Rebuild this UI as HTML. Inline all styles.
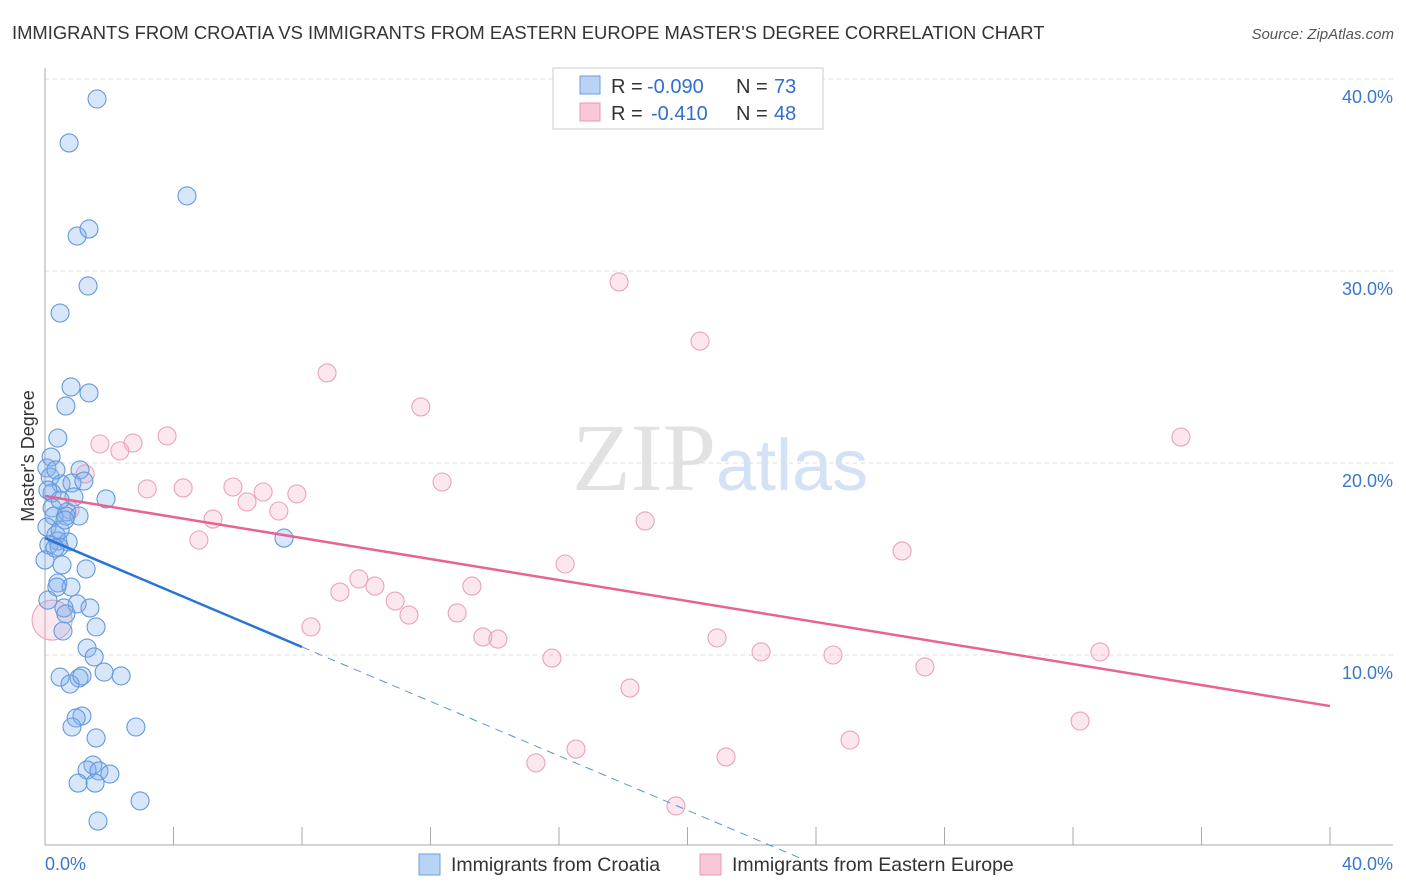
<!DOCTYPE html>
<html><head><meta charset="utf-8"><style>
body{margin:0;background:#fff;font-family:"Liberation Sans",sans-serif;}
svg{display:block}
</style></head><body>
<svg id="chart" width="1406" height="892">
<text x="12" y="39" font-size="18.4" fill="#333">IMMIGRANTS FROM CROATIA VS IMMIGRANTS FROM EASTERN EUROPE MASTER'S DEGREE CORRELATION CHART</text>
<text x="1394" y="39" font-size="15" fill="#555" font-style="italic" text-anchor="end">Source: ZipAtlas.com</text>
<text x="716" y="490" font-size="96" fill="#e2e2e2" text-anchor="end" font-family="Liberation Serif,serif">ZIP</text>
<text x="716" y="490" font-size="72" fill="#d3e2f4">atlas</text>
<g id="grid"></g><g id="axes"></g><g id="pts"></g><g id="lines"></g>
<g>
<rect x="553" y="68" width="270" height="61" fill="#fff" stroke="#ccc"/>
<rect x="580" y="76" width="20" height="18" fill="#b8d3f3" stroke="#6d9fe0"/>
<rect x="580" y="103" width="20" height="18" fill="#f8c8d8" stroke="#e898b4"/>
<text y="93" font-size="20" fill="#333"><tspan x="611">R =</tspan><tspan x="647" fill="#2f6fcf">-0.090</tspan><tspan x="736">N =</tspan><tspan x="774" fill="#2f6fcf">73</tspan></text>
<text y="120" font-size="20" fill="#333"><tspan x="611">R =</tspan><tspan x="651" fill="#2f6fcf">-0.410</tspan><tspan x="736">N =</tspan><tspan x="774" fill="#2f6fcf">48</tspan></text>
</g>
<text transform="translate(34,456) rotate(-90)" font-size="18" fill="#333" text-anchor="middle">Master's Degree</text>
<text x="45" y="870" font-size="18" fill="#3a78c9">0.0%</text>
<text x="1393" y="870" font-size="18" fill="#3a78c9" text-anchor="end">40.0%</text>
<g>
<rect x="419" y="854" width="21" height="21" fill="#b8d3f3" stroke="#6d9fe0"/>
<text x="451" y="871" font-size="19.5" fill="#333">Immigrants from Croatia</text>
<rect x="700" y="854" width="21" height="21" fill="#f8c8d8" stroke="#e898b4"/>
<text x="732" y="871" font-size="19.5" fill="#333">Immigrants from Eastern Europe</text>
</g>
</svg>
<script>
const blueX=[1.62,0.75,4.42,1.00,1.37,1.34,0.47,0.81,1.37,0.65,0.40,0.19,0.06,1.09,0.16,0.50,0.84,1.21,0.22,0.90,1.90,0.22,0.68,1.06,0.28,0.65,0.06,0.34,0.40,0.72,0.12,0.44,0.53,1.28,0.40,0.81,0.37,1.00,1.40,0.59,0.65,1.59,0.56,7.44,1.31,1.53,1.84,0.47,2.37,1.06,0.78,1.15,1.15,0.97,0.84,2.83,1.59,1.49,1.31,1.68,2.02,1.03,1.56,2.96,1.65,0.31,0.09,0.0,0.47,0.09,0.34,0.62,0.47];
const blueY=[38.96,36.67,33.91,31.82,32.19,29.22,27.81,23.96,23.65,22.97,21.30,20.31,19.74,19.64,19.27,18.91,18.96,19.06,18.44,18.23,18.13,17.66,17.45,17.24,17.24,17.24,16.67,16.25,15.94,15.89,15.73,15.63,14.69,14.48,13.75,13.54,13.54,12.66,12.45,12.45,12.14,11.46,11.25,16.09,10.36,9.90,9.11,8.85,8.91,8.80,8.49,8.91,6.82,6.72,6.25,6.25,5.68,4.27,4.01,3.96,3.80,3.33,3.33,2.40,1.35,15.57,12.86,14.95,16.51,18.59,19.64,17.03,18.07];
const pinkX=[17.87,20.39,8.78,11.70,3.80,1.71,2.74,2.33,1.25,3.18,4.30,5.85,6.79,7.84,6.29,7.28,12.36,18.68,5.23,4.79,16.19,26.68,35.36,9.77,10.27,9.18,13.29,10.90,11.33,12.83,8.28,13.63,14.10,20.92,15.78,22.29,24.53,27.39,32.84,18.21,32.22,25.06,16.53,21.20,15.28,19.64,0.78,0.22];
const pinkY=[29.43,26.35,24.69,22.92,21.41,20.99,21.04,20.63,19.43,18.65,18.70,18.75,18.49,18.39,17.97,17.50,19.01,16.98,17.08,15.99,14.74,15.42,21.35,13.96,13.59,13.28,13.59,12.81,12.08,12.19,11.46,10.94,10.83,10.89,9.84,10.16,10.00,9.38,10.16,8.28,6.56,5.57,5.10,4.69,4.38,2.14,17.55,11.82];
const pinkR=pinkY.map((v,i)=>i===pinkY.length-1?20:9);
const yTicks=[10,20,30,40];
const yTickLabels=["10.0%","20.0%","30.0%","40.0%"];
const xTicks=[0,4,8,12,16,20,24,28,32,36,40];
const blueFit=[16.09,-0.709];
const pinkFit=[18.28,-0.2735];
const blueSolidEnd=8.0, blueDashEnd=23.5;

const NS="http://www.w3.org/2000/svg";
const sx=v=>45+v*1285/40;
const sy=v=>847-v*19.2;
function mk(tag,attrs,parent){const e=document.createElementNS(NS,tag);for(const k in attrs)e.setAttribute(k,attrs[k]);document.getElementById(parent).appendChild(e);return e;}
yTicks.forEach((t,i)=>{
  const g=mk('line',{x1:45,x2:1393,y1:sy(t),y2:sy(t),stroke:'#ddd','stroke-dasharray':'4,4'},'grid');
  
  
  const l=mk('text',{x:1393,y:sy(t)+24,'font-size':18,fill:'#3a78c9','text-anchor':'end'},'grid');
  l.textContent=yTickLabels[i];
  
  
});
const ax=mk('line',{x1:45,x2:45,y1:68,y2:845,stroke:'#aaa'},'axes');


const bx=mk('line',{x1:45,x2:1393,y1:845,y2:845,stroke:'#aaa'},'axes');


xTicks.forEach(t=>{
  const e=mk('line',{x1:sx(t),x2:sx(t),y1:827,y2:845,stroke:'#aaa'},'axes');
  
  
});
pinkX.forEach((x,i)=>{
  const c=mk('circle',{cx:sx(x),cy:sy(pinkY[i]),r:pinkR[i],fill:'rgba(244,170,196,0.28)',stroke:'#eaa2bb','stroke-width':1.1},'pts');
  
  
});
blueX.forEach((x,i)=>{
  const c=mk('circle',{cx:sx(x),cy:sy(blueY[i]),r:9,fill:'rgba(130,178,235,0.32)',stroke:'#6499dc','stroke-width':1.1},'pts');
  
  
});
const pl=mk('line',{x1:sx(0),y1:sy(pinkFit[0]),x2:sx(40),y2:sy(pinkFit[0]+pinkFit[1]*40),stroke:'#e8648f','stroke-width':2.5},'lines');


const bl=mk('line',{x1:sx(0),y1:sy(blueFit[0]),x2:sx(blueSolidEnd),y2:sy(blueFit[0]+blueFit[1]*blueSolidEnd),stroke:'#2a72d6','stroke-width':2.5},'lines');


const bd=mk('line',{x1:sx(blueSolidEnd),y1:sy(blueFit[0]+blueFit[1]*blueSolidEnd),x2:sx(blueDashEnd),y2:sy(blueFit[0]+blueFit[1]*blueDashEnd),stroke:'#5b93d9','stroke-width':1,'stroke-dasharray':'8,6'},'lines');


</script>
</body></html>
